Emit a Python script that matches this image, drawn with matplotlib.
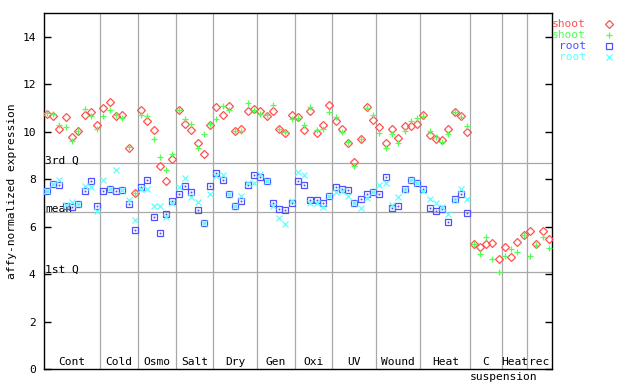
import numpy as np
import matplotlib
matplotlib.use("Agg")
import matplotlib.pyplot as plt
import matplotlib.transforms as mtransforms

nan = np.nan

# group labels and their sample ranges (1-based sample index)
groups = ["Cont", "Cold", "Osmo", "Salt", "Dry", "Gen", "Oxi", "UV", "Wound", "Heat", "C", "Heat", "rec"]
group_sizes = [9, 6, 6, 6, 7, 6, 6, 7, 7, 8, 5, 4, 4]

shoot_red = [10.75, 10.66, 10.11, 10.61, 9.78, 10.04, 10.73, 10.82, 10.28,
             10.99, 11.24, 10.68, 10.70, 9.30, 7.43,
             10.94, 10.44, 10.06, 8.55, 7.92, 8.86,
             10.91, 10.32, 10.06, 9.55, 9.05, 10.30,
             11.03, 10.73, 11.08, 10.04, 10.10, 10.90, 10.97,
             10.86, 10.66, 10.87, 10.14, 9.96, 10.71,
             10.63, 10.06, 10.88, 9.97, 10.28, 11.15,
             10.46, 10.14, 9.55, 8.71, 9.68, 11.05, 10.52,
             10.19, 9.55, 10.14, 9.76, 10.24, 10.24, 10.32,
             10.71, 9.85, 9.68, 9.65, 10.14, 10.84, 10.69, 10.00,
             5.27, 5.15, 5.27, 5.30, 4.62,
             5.14, 4.71, 5.34, 5.65,
             5.84, 5.27, 5.80, 5.47]

shoot_green = [10.80, 10.75, 10.30, 10.20, 9.60, 10.04, 10.98, 10.68, 10.14,
               10.66, 10.94, 10.72, 10.58, 9.37, 7.43,
               10.70, 10.66, 9.72, 8.92, 8.41, 9.06,
               10.94, 10.54, 10.32, 9.30, 9.90, 10.32,
               10.54, 11.07, 10.94, 10.04, 10.02, 11.20, 10.94,
               10.77, 10.70, 11.15, 10.14, 9.99, 10.56,
               10.59, 10.30, 11.05, 10.07, 10.14, 10.82,
               10.61, 10.00, 9.58, 8.58, 9.68, 11.02, 10.73,
               9.97, 9.30, 9.90, 9.55, 10.02, 10.46, 10.58,
               10.65, 10.02, 9.79, 9.58, 9.89, 10.84, 10.61, 10.24,
               5.27, 4.87, 5.56, 4.62, 4.07,
               4.76, 5.04, 4.92, 5.65,
               4.76, 5.23, 5.56, 5.09]

root_blue = [7.51, 7.80, 7.75, 6.87, 6.83, 6.97, 7.50, 7.92, 6.86,
             7.50, 7.61, 7.50, 7.53, 6.95, 5.86,
             7.66, 7.96, 6.43, 5.72, 6.53, 7.07,
             7.40, 7.70, 7.45, 6.70, 6.17, 7.70,
             8.25, 7.99, 7.40, 6.88, 7.08, 7.75, 8.20,
             8.08, 7.94, 6.98, 6.73, 6.70, 6.98,
             7.92, 7.74, 7.12, 7.12, 7.02, 7.29,
             7.66, 7.57, 7.54, 6.98, 7.19, 7.36, 7.47,
             7.40, 8.08, 6.78, 6.86, 7.61, 7.99, 7.83,
             7.57, 6.81, 6.66, 6.74, 6.18, 7.19, 7.40, 6.56,
             nan, nan, nan, nan, nan,
             nan, nan, nan, nan,
             nan, nan, nan, nan]

root_cyan = [7.51, 7.80, 7.96, 6.90, 7.04, 6.97, 7.71, 7.66, 6.65,
             7.96, 7.61, 8.39, 7.53, 7.12, 6.28,
             7.59, 7.59, 6.86, 6.86, 6.39, 7.00,
             7.66, 8.04, 7.24, 7.04, 6.15, 7.37,
             8.13, 8.16, 7.40, 6.88, 7.29, 7.83, 7.83,
             8.22, 7.94, 6.88, 6.35, 6.10, 7.07,
             8.30, 8.18, 6.98, 6.98, 6.84, 7.29,
             7.45, 7.51, 7.30, 6.98, 6.81, 7.22, 7.47,
             7.74, 7.83, 6.92, 7.24, 7.54, 7.99, 7.83,
             7.50, 7.19, 6.98, 6.84, 6.52, 7.12, 7.61, 7.15,
             nan, nan, nan, nan, nan,
             nan, nan, nan, nan,
             nan, nan, nan, nan]

q3_value = 8.67
mean_value = 6.60
q1_value = 4.07
yticks = [0, 2, 4, 6, 8, 10, 12, 14]

RED = "#ff5050"
GREEN = "#50ff50"
BLUE = "#5050ff"
CYAN = "#60ffff"
GRID = "#a8a8a8"

plt.rcParams["font.family"] = ["DejaVu Sans Mono"]
plt.rcParams["font.size"] = 8.1

fig = plt.figure(figsize=(6.4, 3.84), dpi=100)
ax = fig.add_axes([43.8 / 640, 1 - 369 / 384, (552 - 43.8) / 640, (369 - 13.3) / 384])

n = len(shoot_red)
x = np.arange(1, n + 1)
ax.set_xlim(0.5, n + 0.5)
ax.set_ylim(0, 15)

lw = 0.9
# group separators
bounds = np.cumsum(group_sizes)
for b in bounds[:-1]:
    ax.axvline(b + 0.5, color=GRID, lw=lw, zorder=1)
for q in (q3_value, mean_value, q1_value):
    ax.axhline(q, color=GRID, lw=lw, zorder=1)

ax.text(0.7, q3_value, "3rd Q", ha="left", va="baseline", zorder=2)
ax.text(0.7, mean_value, "mean", ha="left", va="baseline", zorder=2)
ax.text(0.7, q1_value, "1st Q", ha="left", va="baseline", zorder=2)

MS_D, MS_P, MS_S, MS_X = 3.8, 4.4, 3.8, 3.8
ax.plot(x, shoot_red, ls="none", marker="D", ms=MS_D, mfc="none", mec=RED, mew=0.9, zorder=3)
ax.plot(x, shoot_green, ls="none", marker="+", ms=MS_P, mec=GREEN, mew=0.9, zorder=4)
ax.plot(x, root_blue, ls="none", marker="s", ms=MS_S, mfc="none", mec=BLUE, mew=0.9, zorder=5)
ax.plot(x, root_blue, ls="none", marker="s", ms=0.9, mfc=BLUE, mec=BLUE, mew=0.3, zorder=5)
ax.plot(x, root_cyan, ls="none", marker="x", ms=MS_X, mec=CYAN, mew=0.9, zorder=6)

# group labels
trans = mtransforms.blended_transform_factory(ax.transData, ax.transAxes)
starts = np.concatenate([[0], bounds[:-1]])
for name, s, b in zip(groups, starts, bounds):
    cx = (s + 0.5 + b + 0.5) / 2
    ax.text(cx, 0.0045, name, transform=trans, ha="center", va="bottom", zorder=2)
c_idx = groups.index("C")
cx = (starts[c_idx] + 0.5 + bounds[c_idx] + 0.5) / 2 + 2.8
ax.text(cx, -0.008, "suspension", transform=trans, ha="center", va="top", clip_on=False)

ax.set_xticks([])
ax.set_yticks(yticks)
ax.set_yticklabels([str(t) for t in yticks])
ax.tick_params(axis="y", direction="in", length=5, width=1, left=True, right=True, pad=5.8)
for sp in ax.spines.values():
    sp.set_linewidth(1)
    sp.set_color("black")

ax.set_ylabel("affy-normalized expression", va="center")
ax.yaxis.set_label_coords((11.7 - 43.8) / (552 - 43.8), 0.5)

# legend outside right
leg_items = [("shoot", RED, "D", MS_D), ("shoot", GREEN, "+", MS_P),
             ("root", BLUE, "s", MS_S), ("root", CYAN, "x", MS_X)]
for k, (lab, col, mk, ms) in enumerate(leg_items):
    yy = 1 - (24 + 11 * k) / 384
    fig.text(585.7 / 640, yy, lab, color=col, ha="right", va="center")
    if mk in ("D", "s"):
        fig.add_artist(plt.Line2D([609.3 / 640], [yy], marker=mk, ms=ms,
                                  mfc="none", mec=col, mew=0.9, transform=fig.transFigure))
    else:
        fig.add_artist(plt.Line2D([609.3 / 640], [yy], marker=mk, ms=ms,
                                  mec=col, mew=0.9, transform=fig.transFigure))

fig.savefig("out.png", dpi=100)
